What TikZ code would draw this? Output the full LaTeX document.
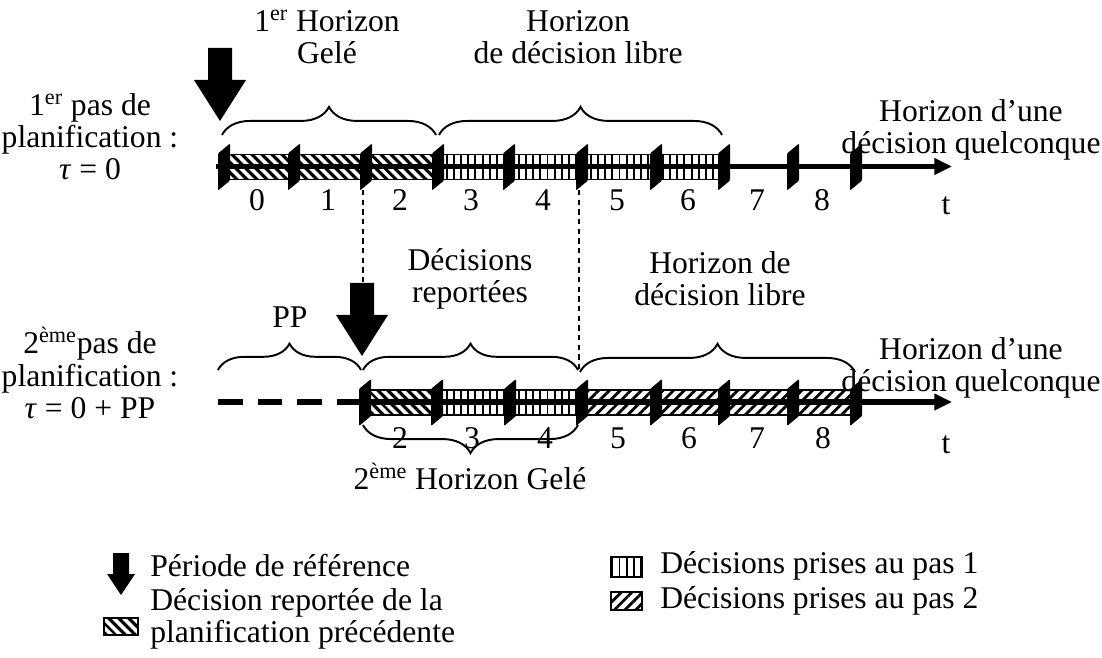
\documentclass[tikz,border=0pt]{standalone}
\usepackage{fontspec}
\setmainfont{Liberation Serif}
\usetikzlibrary{arrows.meta,decorations.pathreplacing,patterns.meta}
\begin{document}
\begin{tikzpicture}[x=0.02cm,y=-0.02cm,
  font=\fontsize{18}{18.3}\selectfont,
  txt/.style={align=center,inner sep=0pt},
  axisline/.style={line width=3.4pt},
  axisarrow/.style={line width=3.4pt,-{Triangle[length=10pt,width=9pt]}},
  band/.style={line width=1.1pt},
  prev/.style={pattern={Lines[angle=-45,distance=4pt,line width=1.9pt]}},
  pasone/.style={pattern={Lines[angle=90,distance=4.1pt,line width=1.1pt]}},
  pastwo/.style={pattern={Lines[angle=45,distance=4.3pt,line width=1.6pt]}},
  hbrace/.style={decorate,decoration={brace,amplitude=#1},line width=1.1pt},
  hbrace/.default=16pt,
  guide/.style={line width=0.6pt,dash pattern=on 3pt off 2.5pt},
  tickmark/.pic={\fill[rounded corners=0.6pt] (-6,-13) -- (6,-23) -- (6,14) -- (-6,24) -- cycle;},
  bigarrow/.pic={\fill (-12,-73) -- (12,-73) -- (12,-41) -- (26,-41) -- (0,0) -- (-26,-41) -- (-12,-41) -- cycle;}
]
\path[fill=white] (0,0) rectangle (1102,658);

% ---------------- Row 1 ----------------
\coordinate (r1s) at (216,166.5);
\coordinate (r1e) at (952,166.5);
\fill[white,prev] (224,154.5) rectangle (438,179.5);
\draw[band] (224,154.5) rectangle (438,179.5);
\fill[white,pasone] (438,154.5) rectangle (724,179.5);
\draw[band] (438,154.5) rectangle (724,179.5);
\draw[axisarrow] (r1s) -- (r1e);
\foreach \x in {224,294,366,438,509,582,656,724,793,856}
  \pic at (\x,166.5) {tickmark};
\foreach \l/\x in {0/257,1/328,2/400,3/471,4/543,5/617,6/688,7/757,8/822}
  \node[txt,anchor=base] (a\l) at (\x,211) {\l};
\node[txt] (t1) at (946,206) {t};

% ---------------- Row 2 ----------------
\coordinate (r2d) at (218,402);
\coordinate (r2m) at (338,402);
\coordinate (r2e) at (952,402);
\fill[white,prev] (365,390) rectangle (437,415);
\draw[band] (365,390) rectangle (437,415);
\fill[white,pasone] (437,390) rectangle (582,415);
\draw[band] (437,390) rectangle (582,415);
\fill[white,pastwo] (582,390) rectangle (856,415);
\draw[band] (582,390) rectangle (856,415);
\draw[axisline,dash pattern=on 14pt off 8.5pt] (r2d) -- (r2m);
\draw[axisarrow] (r2m) -- (r2e);
\foreach \x in {365,437,510,582,656,724,793,856}
  \pic at (\x,402) {tickmark};
\foreach \l/\x in {2/400,3/472,4/545,5/618,6/689,7/757,8/823}
  \node[txt,anchor=base] (b\l) at (\x,448) {\l};
\node[txt] (t2) at (946,445) {t};

% ---------------- dashed guides ----------------
\coordinate (g1a) at (363,190);
\coordinate (g1b) at (363,300);
\coordinate (g2a) at (579,190);
\coordinate (g2b) at (579,372);
\draw[guide] (g1a) -- (g1b);
\draw[guide] (g2a) -- (g2b);

% ---------------- big arrows ----------------
\pic at (220,121) {bigarrow};
\pic at (362,356) {bigarrow};

% ---------------- braces ----------------
\coordinate (b1s) at (222,135); \coordinate (b1e) at (436,135);
\coordinate (b2s) at (439,135); \coordinate (b2e) at (722,135);
\draw[hbrace=16pt] (b1s) -- (b1e);
\draw[hbrace=16pt] (b2s) -- (b2e);
\coordinate (c1s) at (218,370); \coordinate (c1e) at (361,370);
\coordinate (c2s) at (363,370); \coordinate (c2e) at (578,370);
\coordinate (c3s) at (580,372); \coordinate (c3e) at (855,372);
\draw[hbrace=15pt] (c1s) -- (c1e);
\draw[hbrace=15pt] (c2s) -- (c2e);
\draw[hbrace=16pt] (c3s) -- (c3e);
\coordinate (d1s) at (578,425); \coordinate (d1e) at (363,425);
\draw[hbrace=16pt] (d1s) -- (d1e);

% ---------------- texts ----------------
\node[txt] (h1) at (327,37) {1\textsuperscript{er} Horizon\\Gelé};
\node[txt] (h2) at (578,37) {Horizon\\de décision libre};
\node[txt] (h3) at (971,130) {Horizon d’une\\décision quelconque};
\node[txt] (p1) at (90,137) {1\textsuperscript{er} pas de\\planification :\\\textit{τ} = 0};
\node[txt] (pp) at (290,317) {PP};
\node[txt] (dr) at (470,279) {Décisions\\reportées};
\node[txt] (h4) at (720,279) {Horizon de\\décision libre};
\node[txt] (h5) at (971,368) {Horizon d’une\\décision quelconque};
\node[txt] (p2) at (90,373) {2\textsuperscript{ème}pas de\\planification :\\\textit{τ} = 0 + PP};
\node[txt] (hg) at (470,476) {2\textsuperscript{ème} Horizon Gelé};

% ---------------- legend ----------------
\fill (113,553) -- (129,553) -- (129,574) -- (135,574) -- (121,595) -- (107,574) -- (113,574) -- cycle;
\node[txt,anchor=west] (lg1) at (150,566) {Période de référence};
\node[txt,anchor=west,align=left] (lg2) at (150,619) {Décision reportée de la\\planification précédente};
\fill[white,prev] (104,618) rectangle (138,635);
\draw[line width=1.1pt] (104,618) rectangle (138,635);
\fill[white,pasone] (611,557) rectangle (642,577);
\draw[line width=1.1pt] (611,557) rectangle (642,577);
\node[txt,anchor=west] (lg3) at (660,566) {Décisions prises au pas 1};
\fill[white,pastwo] (611,592) rectangle (642,610);
\draw[line width=1.1pt] (611,592) rectangle (642,610);
\node[txt,anchor=west] (lg4) at (660,601) {Décisions prises au pas 2};
\end{tikzpicture}
\end{document}
